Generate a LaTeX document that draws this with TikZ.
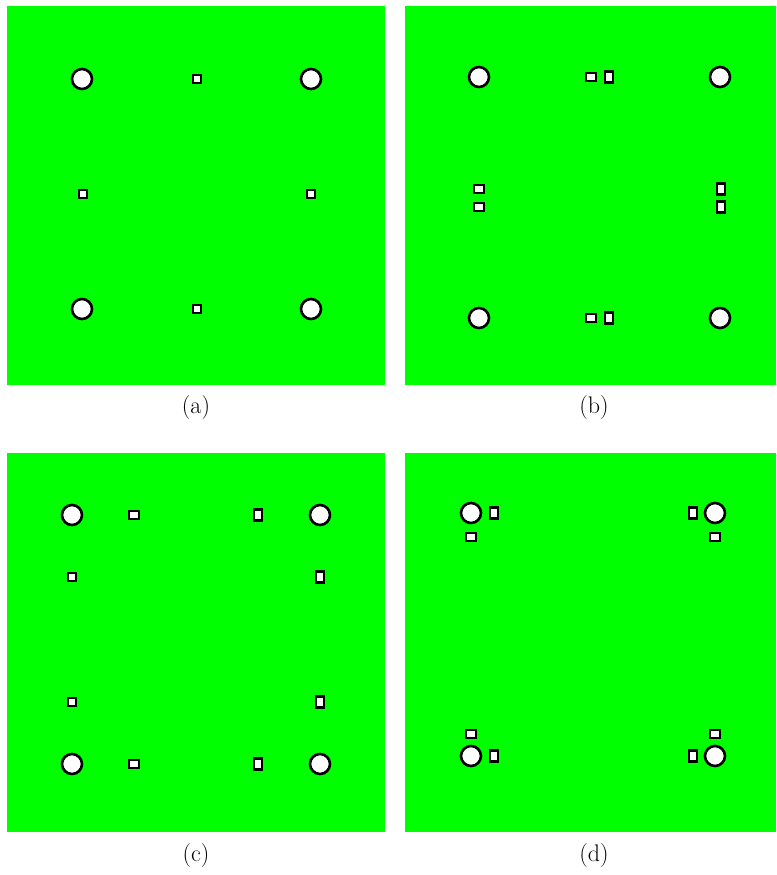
\documentclass[tikz,border=0pt]{standalone}
\usepackage{xcolor}
\usepackage{tikz}
\definecolor{field}{RGB}{0,255,0}

\begin{document}
\begin{tikzpicture}[
	x=1pt, y=-1pt,
	panel/.style={fill=field, draw=none},
	big/.style={circle, draw, fill=white, line width=2.6pt, minimum size=20pt, inner sep=0pt},
	dot/.style={rectangle, draw, fill=white, line width=2.6pt, minimum width=8pt, minimum height=8pt, inner sep=0pt},
	hdot/.style={dot, minimum width=10pt, minimum height=8pt},
	vdot/.style={dot, minimum width=8pt, minimum height=11pt},
	caption/.style={font=\fontsize{24}{29}\selectfont}
	]
	\useasboundingbox (0,0) rectangle (776,875);
	
	% -------------------------------
	% PANEL (a)
	% -------------------------------
	\fill[panel] (7,6) rectangle (385,385);
	\node[big] (a1) at (82,79) {};
	\node[big] (a2) at (311,79) {};
	\node[big] (a3) at (82,309) {};
	\node[big] (a4) at (311,309) {};
	\node[dot] (a5) at (197,79) {};
	\node[dot] (a6) at (83,194) {};
	\node[dot] (a7) at (311,194) {};
	\node[dot] (a8) at (197,309) {};
	\node[caption] (capa) at (196,408) {(a)};
	
	% -------------------------------
	% PANEL (b)
	% -------------------------------
	\fill[panel] (405,6) rectangle (776,385);
	\node[big] (b1) at (479,77) {};
	\node[big] (b2) at (720,77) {};
	\node[big] (b3) at (479,318) {};
	\node[big] (b4) at (720,318) {};
	\node[hdot] (b5) at (591,77) {};
	\node[vdot] (b6) at (609,77) {};
	\node[hdot] (b7) at (479,189) {};
	\node[hdot] (b8) at (479,207) {};
	\node[vdot] (b9) at (721,189) {};
	\node[vdot] (b10) at (721,207) {};
	\node[hdot] (b11) at (591,318) {};
	\node[vdot] (b12) at (609,318) {};
	\node[caption] (capb) at (594,408) {(b)};
	
	% -------------------------------
	% PANEL (c)
	% -------------------------------
	\fill[panel] (7,453) rectangle (385,832);
	\node[big] (c1) at (72,515) {};
	\node[big] (c2) at (320,515) {};
	\node[big] (c3) at (72,764) {};
	\node[big] (c4) at (320,764) {};
	\node[hdot] (c5) at (134,515) {};
	\node[vdot] (c6) at (258,515) {};
	\node[dot] (c7) at (72,577) {};
	\node[vdot] (c8) at (320,577) {};
	\node[dot] (c9) at (72,702) {};
	\node[vdot] (c10) at (320,702) {};
	\node[hdot] (c11) at (134,764) {};
	\node[vdot] (c12) at (258,764) {};
	\node[caption] (capc) at (196,856) {(c)};
	
	% -------------------------------
	% PANEL (d)
	% -------------------------------
	\fill[panel] (405,453) rectangle (776,832);
	\node[big] (d1) at (471,513) {};
	\node[big] (d2) at (715,513) {};
	\node[big] (d3) at (471,756) {};
	\node[big] (d4) at (715,756) {};
	\node[vdot] (d5) at (494,513) {};
	\node[hdot] (d6) at (471,537) {};
	\node[vdot] (d7) at (693,513) {};
	\node[hdot] (d8) at (715,537) {};
	\node[hdot] (d9) at (471,734) {};
	\node[vdot] (d10) at (494,756) {};
	\node[vdot] (d11) at (693,756) {};
	\node[hdot] (d12) at (715,734) {};
	\node[caption] (capd) at (594,856) {(d)};
	
\end{tikzpicture}
\end{document}
